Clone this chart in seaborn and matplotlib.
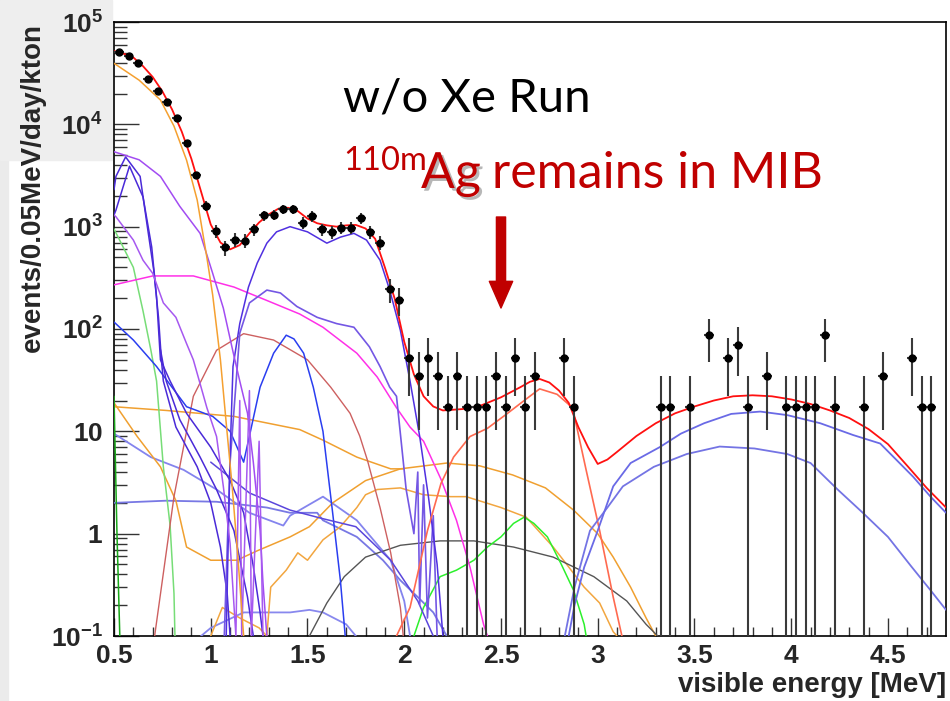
import numpy as np
import pandas as pd
import matplotlib
matplotlib.use("Agg")
import matplotlib.pyplot as plt
import matplotlib.patheffects as pe
from matplotlib.patches import Rectangle
from matplotlib.ticker import FixedLocator, NullFormatter
import seaborn as sns

# ---------------- data ----------------
# data points: bin centres (0.05 MeV bins) and event counts; 1 count = 17.4 rate units
data_centres = np.round(np.arange(0.525, 4.80, 0.05), 3)
data_counts = [2908, 2672, 2270, 1592, 1224, 948, 667, 379, 184, 92,
               52, 36, 43, 42, 54, 74, 75, 85, 85, 63,
               73, 54, 51, 56, 56, 70, 51, 40, 14, 11,
               3, 2, 3, 2, 1, 2, 1, 1, 1, 2,
               1, 3, 1, 2, 0, 0, 3, 1, 0, 0,
               0, 0, 0, 0, 0, 0, 1, 1, 0, 1,
               0, 5, 0, 3, 4, 1, 0, 2, 0, 1,
               1, 1, 1, 5, 1, 0, 0, 1, 0, 2,
               0, 0, 3, 1, 1, 0]
count_unit = 17.4

# total fit (red)
tot_x = [0.50, 0.55, 0.60, 0.65, 0.70, 0.75, 0.80, 0.85, 0.90, 0.95, 1.00, 1.05, 1.10, 1.15,
         1.20, 1.25, 1.30, 1.35, 1.40, 1.45, 1.50, 1.55, 1.60, 1.65, 1.70, 1.75, 1.80, 1.85,
         1.90, 1.95, 2.00, 2.05, 2.10, 2.15, 2.20, 2.30, 2.40, 2.50, 2.60, 2.65, 2.70, 2.75,
         2.80, 2.85, 2.90, 2.95, 3.00, 3.05, 3.10, 3.20, 3.30, 3.40, 3.50, 3.60, 3.70, 3.80,
         3.90, 4.00, 4.10, 4.20, 4.30, 4.40, 4.50, 4.60, 4.70, 4.80]
tot_y = [52000, 49000, 45000, 37000, 29000, 21000, 14000, 8500, 4600, 2200, 1050, 700, 600, 660,
         860, 1100, 1320, 1500, 1530, 1420, 1200, 1080, 1030, 1000, 1030, 1040, 960, 760,
         400, 200, 75, 36, 22, 17.5, 16, 16.5, 18, 21.5, 27, 30.5, 32.5, 30,
         25, 19, 11, 7, 4.8, 5.3, 6.3, 9, 12, 15, 17.5, 20, 22, 22.5,
         22, 20.5, 18.5, 16, 13.5, 10.5, 7.5, 4.6, 2.8, 1.8]

hb1_x = [2.85, 2.88, 2.93, 3.00, 3.08, 3.17, 3.32, 3.43, 3.55, 3.69, 3.84, 3.98, 4.15, 4.32, 4.46, 4.63, 4.72, 4.80]
hb1_y = [0.1, 0.2, 0.47, 1.07, 2.9, 4.9, 7.0, 9.5, 12, 14.8, 15.6, 14.4, 12, 9.2, 7.6, 3.6, 2.3, 1.6]

hb2_x = [2.83, 2.88, 2.96, 3.05, 3.13, 3.29, 3.46, 3.63, 3.81, 3.98, 4.10, 4.24, 4.37, 4.50, 4.62, 4.72, 4.80]
hb2_y = [0.1, 0.3, 1.07, 1.8, 2.9, 4.5, 6.0, 7.1, 6.8, 6.0, 4.9, 2.7, 1.6, 0.93, 0.48, 0.28, 0.18]

ag_x = [1.96, 2.03, 2.12, 2.19, 2.255, 2.34, 2.43, 2.53, 2.62, 2.70, 2.79, 2.87, 2.94, 3.01, 3.08, 3.125]
ag_y = [0.1, 0.19, 1.07, 3.1, 5.6, 8.9, 10.7, 14.8, 20, 26, 23, 17, 4.2, 1.07, 0.24, 0.1]

ob_x = [0.50, 0.63, 0.74, 0.81, 0.875, 0.93, 0.98, 1.01, 1.05, 1.08, 1.11, 1.14, 1.17]
ob_y = [39500, 27000, 17300, 9600, 4470, 1820, 500, 215, 50, 12, 3, 0.6, 0.1]

pu1_x = [0.50, 0.63, 0.74, 0.84, 0.945, 1.01, 1.065, 1.115, 1.15, 1.19, 1.22, 1.255, 1.27, 1.29]
pu1_y = [5400, 4500, 3100, 1580, 860, 350, 160, 60, 31, 15, 5, 1.07, 0.33, 0.1]

pu2_x = [0.50, 0.51, 0.60, 0.65, 0.70, 0.755, 0.82, 0.875, 0.91, 0.98, 1.03, 1.065, 1.10, 1.13,
         1.15, 1.16, 1.20, 1.21, 1.25, 1.27]
pu2_y = [1300, 1250, 740, 470, 350, 180, 130, 72, 50, 17, 8.9, 2.9, 0.8, 0.1,
         20, 0.1, 25, 0.1, 8, 0.1]

va_x = [0.50, 0.51, 0.56, 0.635, 0.67, 0.705, 0.73, 0.745, 0.755, 0.82, 0.93, 1.00, 1.05, 1.085, 1.10]
va_y = [2300, 3100, 4800, 3100, 1070, 380, 130, 50, 31, 11, 4.5, 2.0, 0.74, 0.26, 0.1]

vb_x = [0.50, 0.51, 0.58, 0.65, 0.695, 0.72, 0.74, 0.79, 0.875, 1.00, 1.10, 1.17, 1.22, 1.255, 1.27]
vb_y = [1300, 1450, 3900, 1950, 630, 205, 50, 31, 15, 7, 3.3, 1.6, 0.48, 0.17, 0.1]

vt_x = [0.74, 0.77, 0.84, 0.945, 1.03, 1.12, 1.19, 1.22]
vt_y = [63, 31, 13, 5.6, 2.7, 1.07, 0.24, 0.1]

vd_x = [1.00, 1.20, 1.41, 1.58, 1.75, 1.93, 2.07, 2.15]
vd_y = [5.0, 2.5, 1.7, 1.4, 1.17, 0.55, 0.22, 0.1]

bm_x = [1.08, 1.10, 1.115, 1.15, 1.195, 1.24, 1.29, 1.34, 1.41, 1.50, 1.60, 1.67, 1.74, 1.805,
        1.875, 1.925, 1.98, 2.03, 2.08, 2.125, 2.17, 2.20]
bm_y = [0.1, 6, 43, 113, 257, 440, 690, 890, 1000, 890, 690, 790, 860, 740,
        470, 240, 97, 31, 8.9, 2.3, 0.5, 0.1]

b2_x = [1.07, 1.10, 1.15, 1.20, 1.29, 1.36, 1.445, 1.55, 1.65, 1.74, 1.82, 1.875, 1.925, 1.96,
        2.01, 2.05, 2.07, 2.08, 2.10, 2.12, 2.15, 2.17]
b2_y = [0.1, 5, 91, 180, 240, 225, 166, 130, 113, 104, 67, 43, 27, 22,
        2.7, 1.0, 4, 0.2, 3, 0.15, 1.5, 0.1]

mg_x = [0.50, 0.70, 0.91, 1.12, 1.29, 1.46, 1.58, 1.755, 1.86, 1.96, 2.03, 2.10, 2.19, 2.27, 2.34, 2.41, 2.43]
mg_y = [270, 330, 330, 257, 190, 140, 104, 58, 34, 17, 11, 8, 3.4, 1.35, 0.47, 0.13, 0.1]

ir_x = [0.71, 0.81, 0.91, 1.03, 1.17, 1.325, 1.50, 1.62, 1.72, 1.77, 1.81, 1.875, 1.93, 1.98, 1.995]
ir_y = [0.1, 2.3, 22, 62, 90, 78, 50, 27, 15, 9, 5.2, 1.8, 0.65, 0.19, 0.1]

bl_x = [0.50, 0.60, 0.72, 0.875, 1.01, 1.10, 1.17, 1.20, 1.255, 1.325, 1.39, 1.43, 1.48, 1.53, 1.58, 1.63, 1.67, 1.695]
bl_y = [117, 78, 43, 17.4, 14, 10, 5.0, 9, 27, 58, 87, 80, 58, 27, 10, 1.6, 0.35, 0.1]

oB_x = [0.50, 0.62, 0.74, 0.82, 0.875, 1.00, 1.135, 1.24, 1.41, 1.51, 1.63, 1.80, 1.98, 2.22,
        2.39, 2.56, 2.73, 2.875, 3.00, 3.08, 3.17, 3.25, 3.30]
oB_y = [19, 8.9, 4.5, 2.1, 0.74, 0.55, 0.55, 0.68, 0.93, 1.17, 2.0, 3.3, 4.3, 4.9,
        4.6, 3.75, 2.8, 1.7, 1.0, 0.59, 0.3, 0.15, 0.1]

oA_x = [0.50, 0.77, 1.12, 1.46, 1.58, 1.755, 1.93, 2.00]
oA_y = [17.4, 16, 14, 10.4, 8.2, 5.6, 4.3, 4.3]

on_x = [1.00, 1.06, 1.15, 1.25, 1.29, 1.31, 1.39, 1.45, 1.50, 1.58, 1.67, 1.755, 1.80, 1.86,
        1.98, 2.10, 2.24, 2.32, 2.50, 2.63, 2.77, 2.84, 2.93, 3.01, 3.08, 3.10]
on_y = [0.1, 0.19, 0.15, 0.12, 0.1, 0.3, 0.44, 0.65, 0.55, 0.87, 1.17, 1.8, 2.4, 2.7,
        2.8, 2.4, 2.3, 2.3, 1.8, 1.45, 0.74, 0.5, 0.3, 0.21, 0.11, 0.1]

gr_x = [2.05, 2.10, 2.185, 2.27, 2.36, 2.43, 2.50, 2.565, 2.62, 2.67, 2.74, 2.81, 2.875, 2.93, 2.94]
gr_y = [0.1, 0.19, 0.38, 0.44, 0.55, 0.74, 0.93, 1.26, 1.45, 1.26, 0.93, 0.51, 0.28, 0.13, 0.1]

bk_x = [1.51, 1.60, 1.69, 1.80, 1.98, 2.185, 2.36, 2.565, 2.77, 2.98, 3.15, 3.25, 3.31]
bk_y = [0.1, 0.21, 0.38, 0.59, 0.77, 0.85, 0.85, 0.74, 0.59, 0.38, 0.22, 0.13, 0.1]

lg_x = [0.50, 0.60, 0.65, 0.69, 0.72, 0.755, 0.79, 0.81, 0.815]
lg_y = [950, 400, 150, 63, 31, 4.5, 1.2, 0.26, 0.1]

dg_x = [0.50, 0.515, 0.53]
dg_y = [22, 1.07, 0.1]

sf_x = [0.50, 0.77, 1.03, 1.29, 1.41, 1.55, 1.58, 1.755, 1.89, 1.98, 2.07, 2.15, 2.22]
sf_y = [2.0, 2.1, 2.05, 1.8, 1.6, 1.6, 1.35, 0.93, 0.55, 0.35, 0.24, 0.17, 0.1]

sn_x = [0.50, 0.69, 0.86, 1.03, 1.20, 1.375, 1.41, 1.58, 1.755, 1.93, 2.00, 2.03]
sn_y = [9.5, 5.6, 4.2, 2.7, 1.6, 1.2, 1.5, 2.3, 1.35, 0.55, 0.22, 0.1]

ls_x = [0.95, 1.00, 1.17, 1.41, 1.51, 1.58, 1.70, 1.75]
ls_y = [0.1, 0.12, 0.17, 0.17, 0.18, 0.17, 0.13, 0.1]

y_ticks = [0.1, 1, 10, 100, 1000, 10000, 100000]
y_tick_labels = [r"$10^{-1}$", r"$1$", r"$10$", r"$10^{2}$", r"$10^{3}$", r"$10^{4}$", r"$10^{5}$"]
x_ticks = [0.5, 1.0, 1.5, 2.0, 2.5, 3.0, 3.5, 4.0, 4.5]
x_tick_labels = ["0.5", "1", "1.5", "2", "2.5", "3", "3.5", "4", "4.5"]

# ---------------- style ----------------
sns.set_theme(style="ticks")
plt.rcParams["font.family"] = ["Liberation Sans", "DejaVu Sans"]
plt.rcParams["mathtext.fontset"] = "custom"
plt.rcParams["mathtext.rm"] = "Liberation Sans:bold"
plt.rcParams["mathtext.it"] = "Liberation Sans:bold"
plt.rcParams["mathtext.bf"] = "Liberation Sans:bold"
plt.rcParams["mathtext.default"] = "rm"

W, H = 950, 701
fig = plt.figure(figsize=(W / 100, H / 100), dpi=100)
fig.patch.set_facecolor("white")
fig.add_artist(Rectangle((0, 0), 8 / W, 1, transform=fig.transFigure, color="#ebebeb", zorder=-5))
fig.add_artist(Rectangle((0, 1 - 160 / H), 112 / W, 160 / H, transform=fig.transFigure,
                         color="#eeeeee", zorder=-5))

ax = fig.add_axes([114 / W, 1 - 636 / H, 832 / W, 614 / H])
ax.set_yscale("log")

components = [
    (sf_x, sf_y, "#7878e4", 1.3),
    (sn_x, sn_y, "#8484ee", 1.3),
    (ls_x, ls_y, "#8888ee", 1.3),
    (oA_x, oA_y, "#f0a030", 1.1),
    (oB_x, oB_y, "#f0a030", 1.1),
    (on_x, on_y, "#f2a640", 1.1),
    (bk_x, bk_y, "#555555", 1.0),
    (gr_x, gr_y, "#2cf02c", 1.1),
    (lg_x, lg_y, "#77dd77", 1.1),
    (dg_x, dg_y, "#1aa81a", 1.1),
    (ir_x, ir_y, "#cd6060", 1.0),
    (mg_x, mg_y, "#ff30e8", 1.1),
    (bl_x, bl_y, "#2a3ef0", 1.1),
    (vt_x, vt_y, "#4a2ad8", 1.1),
    (vd_x, vd_y, "#5a46dc", 1.1),
    (va_x, va_y, "#4a2ad8", 1.1),
    (vb_x, vb_y, "#4a2ad8", 1.1),
    (b2_x, b2_y, "#7457e4", 1.2),
    (bm_x, bm_y, "#5030e0", 1.1),
    (pu1_x, pu1_y, "#a24cf2", 1.1),
    (pu2_x, pu2_y, "#a658f0", 1.1),
    (ob_x, ob_y, "#f5a030", 1.1),
    (ag_x, ag_y, "#ff6a50", 1.2),
    (hb2_x, hb2_y, "#7474e4", 1.3),
    (hb1_x, hb1_y, "#6a6ae6", 1.3),
    (tot_x, tot_y, "#ff1010", 1.3),
]
for xs, ys, col, lw in components:
    sns.lineplot(x=xs, y=ys, color=col, lw=lw, ax=ax, estimator=None, sort=False,
                 legend=False, zorder=3)

# data points with Poisson errors
counts = np.array(data_counts, dtype=float)
mask = counts > 0
vals = counts[mask] * count_unit
errs = np.sqrt(counts[mask]) * count_unit
lo = np.minimum(errs, vals - 1e-3)
ax.errorbar(data_centres[mask], vals, yerr=[lo, errs], xerr=0.025, fmt="o", ms=5,
            mfc="black", mec="black", ecolor="#3a3a3a", elinewidth=1.5, capsize=0, zorder=10)

ax.set_xlim(0.5, 4.8)
ax.set_ylim(0.1, 1e5)
ax.yaxis.set_major_locator(FixedLocator(y_ticks))
ax.set_yticklabels(y_tick_labels)
minor = [m * 10.0 ** e for e in range(-1, 5) for m in range(2, 10)]
ax.yaxis.set_minor_locator(FixedLocator(minor))
ax.yaxis.set_minor_formatter(NullFormatter())
ax.xaxis.set_major_locator(FixedLocator(x_ticks))
ax.set_xticklabels(x_tick_labels)
ax.xaxis.set_minor_locator(FixedLocator(np.round(np.arange(0.6, 4.8, 0.1), 2)))
ax.tick_params(axis="both", which="both", direction="in", color="#333333", width=1.0,
               top=False, right=False)
ax.tick_params(axis="y", which="major", length=18, pad=8, labelsize=19)
ax.tick_params(axis="y", which="minor", length=9)
ax.tick_params(axis="x", which="major", length=13, pad=6, labelsize=19)
ax.tick_params(axis="x", which="minor", length=6.5)
for lab in ax.get_xticklabels():
    lab.set_fontweight("bold")
for sp in ax.spines.values():
    sp.set_visible(True)
    sp.set_linewidth(1.2)
    sp.set_color("black")
ax.set_xlabel("")
ax.set_ylabel("")

fig.text(33 / W, 1 - 23 / H, "events/0.05MeV/day/kton", rotation=90, ha="center", va="top",
         fontsize=20, fontweight="bold")
fig.text(946 / W, 1 - 692 / H, "visible energy [MeV]", ha="right", va="baseline",
         fontsize=20, fontweight="bold")

# annotations
fig.text(343 / W, 1 - 112 / H, "w/o Xe Run", ha="left", va="baseline", fontsize=34,
         family=["Lato", "DejaVu Sans"], color="black")
red = "#c00000"
fig.text(343 / W, 1 - 170 / H, "110m", ha="left", va="baseline", fontsize=23.5,
         family=["Lato", "DejaVu Sans"], color=red)
fig.text(421 / W, 1 - 188 / H, "Ag", ha="left", va="baseline", fontsize=36,
         family=["Lato", "DejaVu Sans"], color=red,
         path_effects=[pe.SimplePatchShadow(offset=(2, -2), shadow_rgbFace="#888888", alpha=0.6),
                       pe.Normal()])
fig.text(492 / W, 1 - 188 / H, "remains in MIB", ha="left", va="baseline", fontsize=36,
         family=["Lato", "DejaVu Sans"], color=red)
ax.annotate("", xy=(501, H - 308), xytext=(501, H - 217), xycoords="figure pixels",
            textcoords="figure pixels",
            arrowprops=dict(arrowstyle="simple,head_length=1.6,head_width=1.4,tail_width=0.55",
                            color=red, shrinkA=0, shrinkB=0))

fig.savefig("out.png", dpi=100)
